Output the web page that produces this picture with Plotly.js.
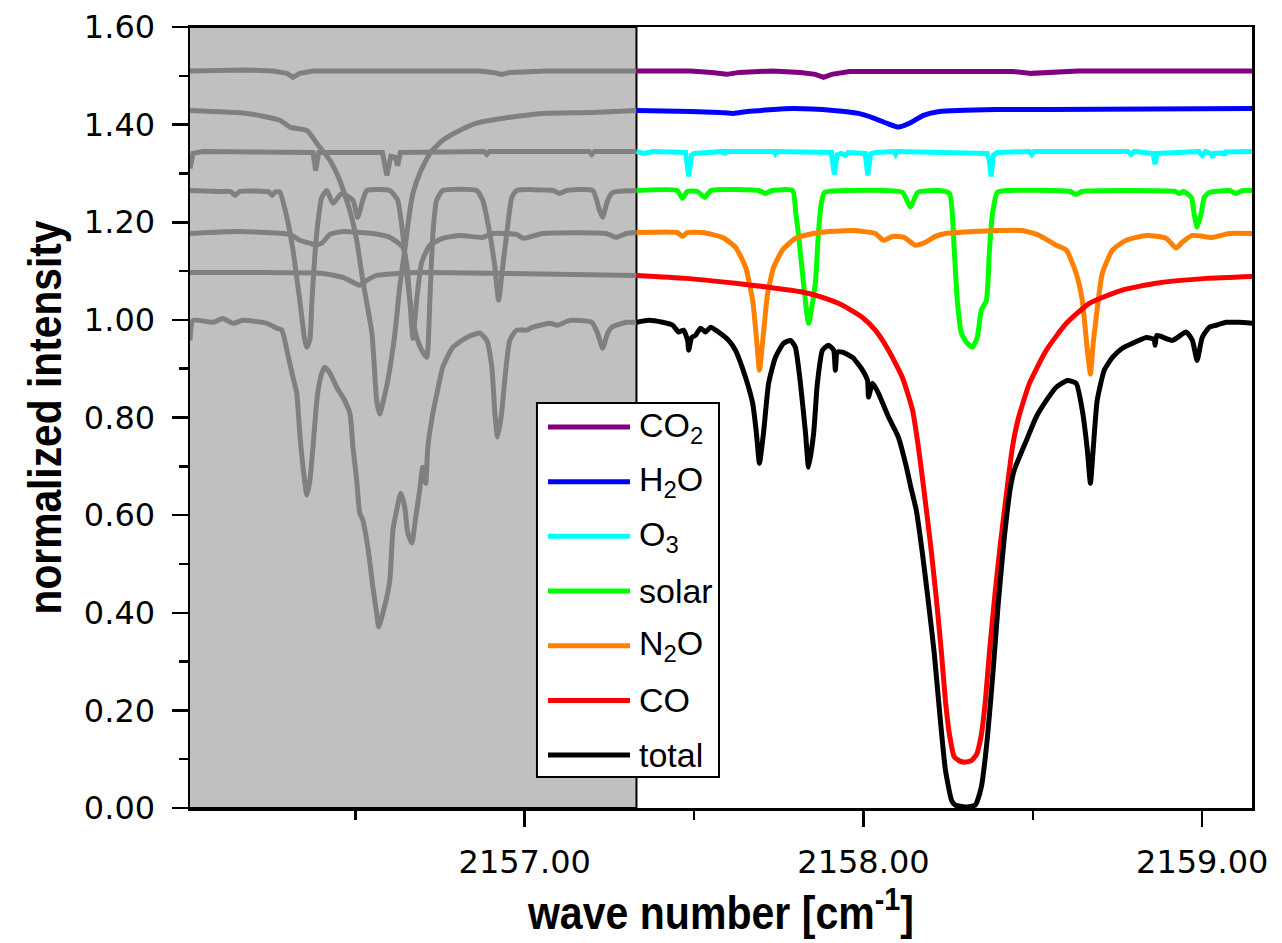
<!DOCTYPE html>
<html><head><meta charset="utf-8">
<script src="https://cdn.plot.ly/plotly-3.0.1.min.js"></script>
<style>html,body{margin:0;padding:0;background:#fff}#chart{width:1282px;height:943px}</style>
</head><body><div id="chart"></div>
<script>
// ---------------- data ----------------
const seriesNames = ['CO<sub>2</sub>', 'H<sub>2</sub>O', 'O<sub>3</sub>', 'solar', 'N<sub>2</sub>O', 'CO', 'total'];
const xTickVals = [2157, 2158, 2159];
const xTickText = ['2157.00', '2158.00', '2159.00'];
const yTickVals = [0, 0.2, 0.4, 0.6, 0.8, 1.0, 1.2, 1.4, 1.6];
const yTickText = ['0.00', '0.20', '0.40', '0.60', '0.80', '1.00', '1.20', '1.40', '1.60'];
const usedWindowStart = 2157.33;   // left of this the spectra are drawn grey

const co2X = [2156.012, 2156.180, 2156.257, 2156.298, 2156.316, 2156.336, 2156.375, 2156.867, 2156.906, 2156.932, 2156.956, 2157.065, 2157.33, 2157.490, 2157.552, 2157.596, 2157.634, 2157.732, 2157.814, 2157.858, 2157.882, 2157.906, 2157.959, 2158.153, 2158.442, 2158.496, 2158.537, 2158.634, 2159.147];
const co2Y = [1.510, 1.512, 1.510, 1.505, 1.497, 1.505, 1.510, 1.510, 1.507, 1.503, 1.507, 1.510, 1.510, 1.510, 1.507, 1.503, 1.507, 1.510, 1.507, 1.503, 1.497, 1.503, 1.509, 1.510, 1.509, 1.505, 1.507, 1.510, 1.510];

const h2oX = [2156.012, 2156.180, 2156.277, 2156.307, 2156.357, 2156.386, 2156.425, 2156.454, 2156.484, 2156.504, 2156.522, 2156.549, 2156.563, 2156.572, 2156.583, 2156.596, 2156.617, 2156.631, 2156.646, 2156.661, 2156.670, 2156.690, 2156.720, 2156.758, 2156.808, 2156.858, 2156.956, 2157.053, 2157.201, 2157.33, 2157.490, 2157.575, 2157.617, 2157.658, 2157.791, 2157.912, 2157.985, 2158.032, 2158.068, 2158.103, 2158.142, 2158.177, 2158.224, 2158.392, 2158.549, 2159.147];
const h2oY = [1.429, 1.423, 1.409, 1.395, 1.388, 1.362, 1.327, 1.286, 1.224, 1.163, 1.081, 0.973, 0.835, 0.807, 0.835, 0.876, 0.973, 1.067, 1.143, 1.224, 1.259, 1.300, 1.341, 1.368, 1.388, 1.403, 1.415, 1.423, 1.425, 1.429, 1.427, 1.425, 1.423, 1.427, 1.433, 1.429, 1.423, 1.413, 1.403, 1.395, 1.405, 1.419, 1.427, 1.431, 1.431, 1.433];

const o3X = [2156.012, 2156.021, 2156.050, 2156.300, 2156.375, 2156.383, 2156.392, 2156.580, 2156.593, 2156.605, 2156.618, 2156.625, 2156.633, 2156.880, 2156.888, 2156.896, 2157.190, 2157.198, 2157.206, 2157.33, 2157.350, 2157.380, 2157.475, 2157.484, 2157.493, 2157.500, 2157.587, 2157.590, 2157.595, 2157.735, 2157.740, 2157.745, 2157.905, 2157.914, 2157.922, 2157.935, 2157.947, 2157.955, 2158.005, 2158.013, 2158.021, 2158.035, 2158.090, 2158.095, 2158.100, 2158.365, 2158.371, 2158.377, 2158.384, 2158.395, 2158.490, 2158.497, 2158.504, 2158.780, 2158.790, 2158.800, 2158.855, 2158.861, 2158.867, 2158.990, 2159.000, 2159.010, 2159.027, 2159.031, 2159.035, 2159.062, 2159.066, 2159.070, 2159.147];
const o3Y = [1.310, 1.341, 1.345, 1.345, 1.343, 1.306, 1.343, 1.343, 1.296, 1.335, 1.333, 1.316, 1.343, 1.345, 1.339, 1.345, 1.345, 1.339, 1.345, 1.345, 1.341, 1.345, 1.343, 1.294, 1.338, 1.341, 1.345, 1.339, 1.345, 1.345, 1.340, 1.345, 1.343, 1.298, 1.338, 1.341, 1.337, 1.343, 1.341, 1.296, 1.340, 1.343, 1.345, 1.339, 1.345, 1.341, 1.330, 1.294, 1.338, 1.343, 1.345, 1.339, 1.345, 1.345, 1.339, 1.345, 1.341, 1.319, 1.341, 1.345, 1.337, 1.345, 1.340, 1.333, 1.341, 1.342, 1.337, 1.344, 1.345];

const solarX = [2156.012, 2156.100, 2156.132, 2156.145, 2156.158, 2156.235, 2156.245, 2156.254, 2156.264, 2156.277, 2156.298, 2156.316, 2156.336, 2156.351, 2156.357, 2156.366, 2156.372, 2156.386, 2156.401, 2156.416, 2156.434, 2156.460, 2156.493, 2156.507, 2156.522, 2156.534, 2156.602, 2156.625, 2156.640, 2156.655, 2156.670, 2156.684, 2156.699, 2156.711, 2156.720, 2156.729, 2156.740, 2156.758, 2156.858, 2156.876, 2156.897, 2156.912, 2156.923, 2156.935, 2156.947, 2156.962, 2156.976, 2157.083, 2157.103, 2157.124, 2157.201, 2157.221, 2157.230, 2157.245, 2157.260, 2157.33,
  2157.450, 2157.466, 2157.480, 2157.510, 2157.531, 2157.550, 2157.690, 2157.711, 2157.730, 2157.791, 2157.800, 2157.808, 2157.823, 2157.838, 2157.858, 2157.867, 2157.876, 2157.885, 2157.950, 2158.115, 2158.139, 2158.160, 2158.224, 2158.254, 2158.268, 2158.277, 2158.289, 2158.304, 2158.322, 2158.336, 2158.348, 2158.363, 2158.372, 2158.381, 2158.395, 2158.422, 2158.610, 2158.628, 2158.645, 2158.920, 2158.932, 2158.945, 2158.968, 2158.976, 2158.985, 2158.997, 2159.006, 2159.021, 2159.080, 2159.100, 2159.120, 2159.147];
const solarY = [1.265, 1.263, 1.263, 1.255, 1.263, 1.263, 1.262, 1.255, 1.262, 1.262, 1.210, 1.143, 1.040, 0.958, 0.944, 0.960, 1.040, 1.177, 1.251, 1.265, 1.239, 1.259, 1.245, 1.210, 1.245, 1.265, 1.265, 1.245, 1.177, 1.075, 1.000, 0.958, 0.934, 0.923, 1.040, 1.177, 1.245, 1.265, 1.265, 1.245, 1.177, 1.108, 1.040, 1.108, 1.177, 1.251, 1.265, 1.265, 1.259, 1.265, 1.265, 1.224, 1.210, 1.245, 1.261, 1.265,
  1.265, 1.249, 1.263, 1.263, 1.251, 1.265, 1.265, 1.259, 1.265, 1.265, 1.220, 1.177, 1.075, 0.993, 1.075, 1.177, 1.240, 1.261, 1.265, 1.261, 1.231, 1.261, 1.265, 1.259, 1.143, 1.040, 0.973, 0.954, 0.944, 0.964, 1.020, 1.040, 1.143, 1.218, 1.261, 1.265, 1.263, 1.257, 1.263, 1.263, 1.259, 1.263, 1.251, 1.218, 1.190, 1.218, 1.251, 1.261, 1.265, 1.259, 1.265, 1.265];

const n2oX = [2156.012, 2156.159, 2156.307, 2156.336, 2156.366, 2156.381, 2156.401, 2156.425, 2156.463, 2156.552, 2156.602, 2156.640, 2156.652, 2156.661, 2156.670, 2156.681, 2156.696, 2156.720, 2156.758, 2156.808, 2156.876, 2156.903, 2156.976, 2156.997, 2157.053, 2157.240, 2157.270, 2157.300, 2157.33,
  2157.450, 2157.466, 2157.480, 2157.525, 2157.584, 2157.622, 2157.652, 2157.673, 2157.684, 2157.693, 2157.705, 2157.717, 2157.735, 2157.761, 2157.799, 2157.867, 2157.968, 2158.035, 2158.059, 2158.086, 2158.120, 2158.153, 2158.183, 2158.212, 2158.242, 2158.392, 2158.469, 2158.519, 2158.569, 2158.599, 2158.628, 2158.646, 2158.661, 2158.670, 2158.678, 2158.687, 2158.705, 2158.735, 2158.776, 2158.835, 2158.894, 2158.923, 2158.941, 2158.971, 2159.029, 2159.080, 2159.147];
const n2oY = [1.177, 1.181, 1.175, 1.163, 1.157, 1.153, 1.157, 1.175, 1.181, 1.177, 1.169, 1.149, 1.112, 1.040, 0.962, 1.040, 1.118, 1.153, 1.167, 1.173, 1.169, 1.177, 1.175, 1.167, 1.177, 1.177, 1.169, 1.177, 1.179,
  1.179, 1.171, 1.179, 1.179, 1.169, 1.149, 1.108, 1.040, 0.964, 0.897, 0.973, 1.054, 1.108, 1.143, 1.167, 1.179, 1.183, 1.177, 1.163, 1.171, 1.169, 1.153, 1.159, 1.171, 1.177, 1.183, 1.183, 1.173, 1.153, 1.143, 1.095, 1.040, 0.938, 0.889, 0.950, 1.005, 1.095, 1.143, 1.163, 1.173, 1.167, 1.147, 1.159, 1.173, 1.169, 1.177, 1.177];

const coX = [2156.012, 2156.209, 2156.404, 2156.463, 2156.493, 2156.513, 2156.534, 2156.563, 2156.676, 2156.956, 2157.33,
  2157.475, 2157.622, 2157.720, 2157.820, 2157.879, 2157.938, 2157.997, 2158.035, 2158.074, 2158.115, 2158.145, 2158.162, 2158.177, 2158.198, 2158.215, 2158.230, 2158.242, 2158.254, 2158.268, 2158.285, 2158.301, 2158.318, 2158.334, 2158.348, 2158.360, 2158.372, 2158.387, 2158.404, 2158.425, 2158.440, 2158.458, 2158.490, 2158.540, 2158.599, 2158.667, 2158.764, 2158.864, 2159.012, 2159.147];
const coY = [1.097, 1.097, 1.095, 1.087, 1.077, 1.071, 1.081, 1.091, 1.097, 1.095, 1.091,
  1.085, 1.075, 1.067, 1.057, 1.046, 1.030, 1.005, 0.979, 0.938, 0.882, 0.815, 0.740, 0.660, 0.540, 0.430, 0.320, 0.220, 0.150, 0.105, 0.096, 0.094, 0.097, 0.110, 0.150, 0.220, 0.320, 0.430, 0.540, 0.660, 0.740, 0.800, 0.870, 0.938, 0.993, 1.034, 1.061, 1.075, 1.085, 1.089];

const totalX = [2156.012, 2156.021, 2156.080, 2156.109, 2156.139, 2156.168, 2156.239, 2156.268, 2156.283, 2156.298, 2156.313, 2156.327, 2156.336, 2156.345, 2156.357, 2156.366, 2156.375, 2156.383, 2156.389, 2156.401, 2156.410, 2156.425, 2156.445, 2156.463, 2156.484, 2156.493, 2156.504, 2156.513, 2156.522, 2156.537, 2156.552, 2156.563, 2156.569, 2156.581, 2156.593, 2156.602, 2156.611, 2156.622, 2156.634, 2156.646, 2156.655, 2156.667, 2156.676, 2156.690, 2156.699, 2156.708, 2156.714, 2156.729, 2156.743, 2156.758, 2156.788, 2156.829, 2156.867, 2156.888, 2156.903, 2156.912, 2156.920, 2156.932, 2156.941, 2156.956, 2156.976, 2157.006, 2157.024, 2157.074, 2157.097, 2157.133, 2157.198, 2157.215, 2157.230, 2157.245, 2157.257, 2157.301, 2157.33,
  2157.366, 2157.407, 2157.437, 2157.454, 2157.469, 2157.481, 2157.484, 2157.493, 2157.504, 2157.519, 2157.534, 2157.549, 2157.572, 2157.602, 2157.622, 2157.652, 2157.673, 2157.684, 2157.693, 2157.705, 2157.720, 2157.740, 2157.764, 2157.785, 2157.799, 2157.814, 2157.829, 2157.838, 2157.853, 2157.864, 2157.879, 2157.897, 2157.912, 2157.917, 2157.923, 2157.938, 2157.968, 2157.997, 2158.012, 2158.015, 2158.027, 2158.044, 2158.074, 2158.103, 2158.127, 2158.139, 2158.156, 2158.174, 2158.192, 2158.209, 2158.227, 2158.242, 2158.260, 2158.271, 2158.301, 2158.330, 2158.348, 2158.366, 2158.383, 2158.398, 2158.416, 2158.434, 2158.445, 2158.481, 2158.510, 2158.540, 2158.569, 2158.602, 2158.628, 2158.646, 2158.661, 2158.670, 2158.678, 2158.690, 2158.711, 2158.735, 2158.764, 2158.794, 2158.835, 2158.858, 2158.861, 2158.866, 2158.912, 2158.953, 2158.971, 2158.985, 2159.000, 2159.021, 2159.041, 2159.071, 2159.109, 2159.147];
const totalY = [0.958, 0.999, 0.995, 1.003, 0.993, 0.999, 0.993, 0.983, 0.979, 0.938, 0.891, 0.850, 0.768, 0.702, 0.641, 0.672, 0.739, 0.809, 0.850, 0.891, 0.903, 0.891, 0.862, 0.842, 0.809, 0.739, 0.672, 0.604, 0.590, 0.534, 0.452, 0.399, 0.371, 0.399, 0.432, 0.467, 0.569, 0.610, 0.645, 0.616, 0.563, 0.543, 0.584, 0.651, 0.698, 0.665, 0.739, 0.809, 0.856, 0.903, 0.944, 0.964, 0.973, 0.958, 0.903, 0.809, 0.760, 0.809, 0.876, 0.958, 0.979, 0.979, 0.985, 0.993, 0.989, 0.999, 0.995, 0.973, 0.942, 0.973, 0.985, 0.995, 0.995,
  0.999, 0.995, 0.989, 0.975, 0.979, 0.958, 0.938, 0.964, 0.968, 0.983, 0.975, 0.985, 0.975, 0.958, 0.938, 0.882, 0.829, 0.768, 0.706, 0.768, 0.870, 0.923, 0.952, 0.958, 0.944, 0.870, 0.768, 0.698, 0.768, 0.870, 0.938, 0.948, 0.938, 0.897, 0.934, 0.934, 0.923, 0.897, 0.876, 0.842, 0.870, 0.850, 0.801, 0.760, 0.698, 0.660, 0.610, 0.522, 0.420, 0.317, 0.180, 0.078, 0.016, 0.006, 0.002, 0.006, 0.043, 0.145, 0.283, 0.420, 0.555, 0.657, 0.692, 0.753, 0.801, 0.835, 0.862, 0.876, 0.870, 0.815, 0.733, 0.665, 0.733, 0.835, 0.897, 0.923, 0.942, 0.952, 0.964, 0.960, 0.948, 0.968, 0.958, 0.975, 0.958, 0.917, 0.964, 0.985, 0.989, 0.995, 0.995, 0.993];

// ---------------- styling / assembly ----------------
const seriesX = [co2X, h2oX, o3X, solarX, n2oX, coX, totalX];
const seriesY = [co2Y, h2oY, o3Y, solarY, n2oY, coY, totalY];
const colors = ['#800080', '#0000ff', '#00ffff', '#00ff00', '#ff8000', '#ff0000', '#000000'];
const smoothSeries = [false, true, false, true, true, true, true];
const GREY_LINE = '#808080';
const LW = 5;

function part(xs, ys, keep) {
  const px = [], py = [];
  xs.forEach((x, i) => { if (keep(x)) { px.push(x); py.push(ys[i]); } });
  return {x: px, y: py};
}
function lineStyle(color, i) {
  return smoothSeries[i] ? {color: color, width: LW, shape: 'spline', smoothing: 0.5}
                         : {color: color, width: LW};
}

const traces = [];
seriesX.forEach((xs, i) => {
  const g = part(xs, seriesY[i], x => x <= usedWindowStart);
  traces.push({type: 'scatter', mode: 'lines', x: g.x, y: g.y, name: seriesNames[i] + ' (grey)',
    line: lineStyle(GREY_LINE, i), hoverinfo: 'skip', showlegend: false});
});
seriesX.forEach((xs, i) => {
  const c = part(xs, seriesY[i], x => x >= usedWindowStart);
  traces.push({type: 'scatter', mode: 'lines', x: c.x, y: c.y, name: seriesNames[i],
    line: lineStyle(colors[i], i), showlegend: false});
});

const tickFont = {family: 'DejaVu Sans, Verdana, sans-serif', size: 32, color: '#000'};
const titleFont = {family: 'Liberation Sans, Arial, sans-serif', size: 46, color: '#000', weight: 'bold'};

// manual legend box (paper coordinates)
const lg = {x0: 0.3267, x1: 0.4981, y0: 0.0397, y1: 0.5186, lx0: 0.3371, lx1: 0.4143, tx: 0.4209, top: 0.4878, step: 0.0700};
const shapes = [
  {type: 'rect', xref: 'x', yref: 'paper', x0: 2156.0, x1: usedWindowStart, y0: 0, y1: 1,
   fillcolor: '#c0c0c0', line: {color: '#000', width: 2}, layer: 'below'},
  {type: 'rect', xref: 'paper', yref: 'paper', x0: lg.x0, x1: lg.x1, y0: lg.y0, y1: lg.y1,
   fillcolor: '#ffffff', line: {color: '#000', width: 2}, layer: 'above'}
];
const annotations = [];
seriesNames.forEach((n, i) => {
  const yy = lg.top - i * lg.step;
  shapes.push({type: 'line', xref: 'paper', yref: 'paper', x0: lg.lx0, x1: lg.lx1, y0: yy, y1: yy,
    line: {color: colors[i], width: LW}, layer: 'above'});
  annotations.push({xref: 'paper', yref: 'paper', x: lg.tx, y: yy, xanchor: 'left', yanchor: 'middle',
    text: n, showarrow: false, font: {family: 'Liberation Sans, Arial, sans-serif', size: 34, color: '#000'}});
});

const layout = {
  width: 1282, height: 943,
  margin: {l: 190, r: 30, t: 27, b: 135},
  paper_bgcolor: '#ffffff', plot_bgcolor: '#ffffff',
  showlegend: false,
  xaxis: {
    range: [2156.012, 2159.147], tickmode: 'array', tickvals: xTickVals, ticktext: xTickText,
    ticks: 'outside', ticklen: 16, tickwidth: 2.5, tickcolor: '#000', ticklabelstandoff: 8,
    minor: {tickmode: 'array', tickvals: [2156.5, 2157.5, 2158.5], ticks: 'outside', ticklen: 9, tickwidth: 2.5, tickcolor: '#000'},
    showline: true, linewidth: 2.5, linecolor: '#000', mirror: true,
    showgrid: false, zeroline: false, tickfont: tickFont,
    title: {text: 'wave number [cm<sup>-1</sup>]', font: titleFont, standoff: 10}
  },
  yaxis: {
    range: [0, 1.6], tickmode: 'array', tickvals: yTickVals, ticktext: yTickText,
    ticks: 'outside', ticklen: 16, tickwidth: 2.5, tickcolor: '#000', ticklabelstandoff: 10,
    minor: {tickmode: 'array', tickvals: [0.1, 0.3, 0.5, 0.7, 0.9, 1.1, 1.3, 1.5], ticks: 'outside', ticklen: 9, tickwidth: 2.5, tickcolor: '#000'},
    showline: true, linewidth: 2.5, linecolor: '#000', mirror: true,
    showgrid: false, zeroline: false, tickfont: tickFont,
    title: {text: 'normalized intensity', font: titleFont, standoff: 8}
  },
  shapes: shapes,
  annotations: annotations
};

Plotly.newPlot('chart', traces, layout, {staticPlot: true, displayModeBar: false}).then(gd => {
  // the reference uses a condensed bold face: squeeze the axis titles horizontally to its measured lengths
  const yt = gd.querySelector('.g-ytitle text');
  if (yt) { yt.setAttribute('textLength', 394); yt.setAttribute('lengthAdjust', 'spacingAndGlyphs'); }
  const xg = gd.querySelector('.g-xtitle');
  const xt = xg && xg.querySelector('text');
  if (xt) {
    const bb = xt.getBBox();
    const s = 387 / bb.width;
    const cx = bb.x + bb.width / 2;
    const prev = xg.getAttribute('transform') || '';
    xg.setAttribute('transform', prev + ' translate(' + cx + ',0) scale(' + s + ',1) translate(' + (-cx) + ',0)');
  }
});
</script>
</body></html>
